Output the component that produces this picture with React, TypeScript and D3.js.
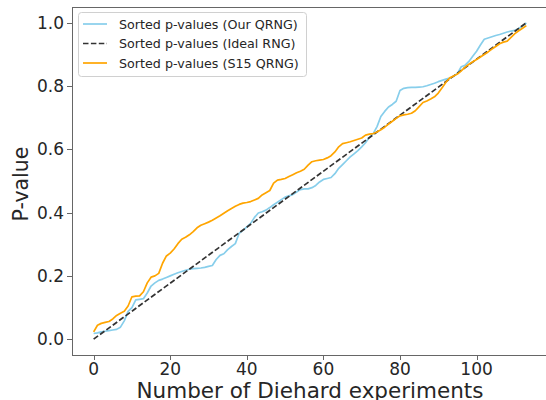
import * as d3 from 'd3';
import { useEffect, useRef } from 'react';

const ourQrng = [
  0.018, 0.020, 0.023, 0.025, 0.027, 0.029, 0.031, 0.038, 0.058, 0.088,
  0.100, 0.124, 0.126, 0.128, 0.146, 0.168, 0.178, 0.186, 0.190, 0.195,
  0.200, 0.205, 0.210, 0.214, 0.218, 0.221, 0.223, 0.224, 0.225, 0.227,
  0.230, 0.233, 0.252, 0.265, 0.270, 0.283, 0.293, 0.302, 0.335, 0.344,
  0.355, 0.366, 0.385, 0.399, 0.403, 0.408, 0.416, 0.425, 0.433, 0.441,
  0.449, 0.453, 0.457, 0.465, 0.473, 0.475, 0.475, 0.479, 0.486, 0.497,
  0.505, 0.508, 0.511, 0.523, 0.540, 0.552, 0.564, 0.576, 0.586, 0.596,
  0.608, 0.621, 0.638, 0.650, 0.672, 0.704, 0.720, 0.734, 0.742, 0.752,
  0.786, 0.793, 0.795, 0.796, 0.796, 0.797, 0.798, 0.801, 0.805, 0.809,
  0.814, 0.818, 0.822, 0.825, 0.831, 0.840, 0.861, 0.866, 0.878, 0.894,
  0.910, 0.930, 0.948, 0.952, 0.956, 0.960, 0.963, 0.967, 0.971, 0.974,
  0.976, 0.982, 0.990, 1.000,
];

const s15Qrng = [
  0.023, 0.044, 0.050, 0.053, 0.056, 0.064, 0.075, 0.082, 0.088, 0.105,
  0.134, 0.136, 0.137, 0.150, 0.178, 0.196, 0.200, 0.208, 0.240, 0.263,
  0.272, 0.285, 0.302, 0.316, 0.322, 0.330, 0.340, 0.352, 0.360, 0.365,
  0.370, 0.376, 0.383, 0.390, 0.398, 0.406, 0.413, 0.420, 0.426, 0.430,
  0.432, 0.435, 0.440, 0.445, 0.456, 0.463, 0.470, 0.493, 0.503, 0.505,
  0.508, 0.514, 0.520, 0.526, 0.531, 0.537, 0.550, 0.561, 0.564, 0.566,
  0.568, 0.573, 0.580, 0.592, 0.608, 0.618, 0.621, 0.624, 0.628, 0.632,
  0.636, 0.645, 0.648, 0.650, 0.655, 0.662, 0.670, 0.680, 0.689, 0.698,
  0.706, 0.709, 0.711, 0.714, 0.722, 0.735, 0.748, 0.753, 0.759, 0.766,
  0.778, 0.795, 0.812, 0.826, 0.832, 0.838, 0.848, 0.860, 0.869, 0.877,
  0.884, 0.892, 0.900, 0.908, 0.917, 0.925, 0.934, 0.939, 0.942, 0.954,
  0.966, 0.975, 0.983, 0.991,
];

// Ideal RNG: straight diagonal, end points only
const idealX = [0, 113];
const idealP = [0.0, 1.0];

const xTicks = [0, 20, 40, 60, 80, 100];
const yTicks = [0.0, 0.2, 0.4, 0.6, 0.8, 1.0];

const legendLabels = [
  'Sorted p-values (Our QRNG)',
  'Sorted p-values (Ideal RNG)',
  'Sorted p-values (S15 QRNG)',
];

const BLUE = '#87ceeb';
const ORANGE = '#ffa500';
const DASH = '#333333';
const FONT = 'DejaVu Sans, sans-serif';

export default function App() {
  const svgRef = useRef<SVGSVGElement>(null);

  useEffect(() => {
    document.body.style.margin = '0';
    const svg = d3.select(svgRef.current);
    svg.selectAll('*').remove();

    const left = 72, right = 548, top = 7, bottom = 355;

    const x = d3.scaleLinear().domain([-5.65, 118.65]).range([left, right]);
    const y = d3.scaleLinear().domain([-0.05, 1.05]).range([bottom, top]);

    const line = d3.line<[number, number]>()
      .x(d => x(d[0]))
      .y(d => y(d[1]));

    // Plot frame
    svg.append('rect')
      .attr('x', left + 0.5).attr('y', top + 0.5)
      .attr('width', right - left).attr('height', bottom - top)
      .attr('fill', 'none').attr('stroke', '#666').attr('stroke-width', 1);

    const plot = svg.append('g');

    plot.append('path')
      .datum(ourQrng.map((v, i) => [i, v] as [number, number]))
      .attr('fill', 'none').attr('stroke', BLUE).attr('stroke-width', 1.7)
      .attr('stroke-linejoin', 'round')
      .attr('d', line);

    plot.append('path')
      .datum(idealX.map((v, i) => [v, idealP[i]] as [number, number]))
      .attr('fill', 'none').attr('stroke', DASH).attr('stroke-width', 1.7)
      .attr('stroke-dasharray', '5.5 2.4')
      .attr('d', line);

    plot.append('path')
      .datum(s15Qrng.map((v, i) => [i, v] as [number, number]))
      .attr('fill', 'none').attr('stroke', ORANGE).attr('stroke-width', 1.7)
      .attr('stroke-linejoin', 'round')
      .attr('d', line);

    // X axis ticks
    const xt = svg.append('g');
    xTicks.forEach(t => {
      const px = Math.round(x(t)) + 0.5;
      xt.append('line')
        .attr('x1', px).attr('x2', px)
        .attr('y1', bottom).attr('y2', bottom + 5)
        .attr('stroke', '#666');
      xt.append('text')
        .attr('x', x(t)).attr('y', 375)
        .attr('text-anchor', 'middle')
        .attr('font-family', FONT).attr('font-size', 17)
        .attr('fill', '#262626')
        .text(String(t));
    });

    // Y axis ticks
    const yt = svg.append('g');
    yTicks.forEach(t => {
      const py = Math.round(y(t)) + 0.5;
      yt.append('line')
        .attr('x1', left - 5).attr('x2', left)
        .attr('y1', py).attr('y2', py)
        .attr('stroke', '#666');
      yt.append('text')
        .attr('x', 64).attr('y', y(t))
        .attr('dy', '0.36em')
        .attr('text-anchor', 'end')
        .attr('font-family', FONT).attr('font-size', 17)
        .attr('fill', '#262626')
        .text(t.toFixed(1));
    });

    // Axis labels
    svg.append('text')
      .attr('x', (left + right) / 2).attr('y', 398)
      .attr('text-anchor', 'middle')
      .attr('font-family', FONT).attr('font-size', 21.5)
      .attr('fill', '#262626')
      .text('Number of Diehard experiments');

    svg.append('text')
      .attr('transform', 'translate(28,184) rotate(-90)')
      .attr('text-anchor', 'middle')
      .attr('font-family', FONT).attr('font-size', 20.5)
      .attr('fill', '#262626')
      .text('P-value');

    // Legend
    const lg = svg.append('g');
    lg.append('rect')
      .attr('x', 78.5).attr('y', 12.5)
      .attr('width', 228).attr('height', 64)
      .attr('rx', 3)
      .attr('fill', 'white').attr('fill-opacity', 0.8)
      .attr('stroke', '#d0d0d0');

    const styles = [
      { color: BLUE, dash: null },
      { color: DASH, dash: '5.5 2.4' },
      { color: ORANGE, dash: null },
    ];
    legendLabels.forEach((label, i) => {
      const ly = 24 + i * 19.5;
      const s = styles[i];
      const l = lg.append('line')
        .attr('x1', 83).attr('x2', 107)
        .attr('y1', ly).attr('y2', ly)
        .attr('stroke', s.color).attr('stroke-width', 1.7);
      if (s.dash) l.attr('stroke-dasharray', s.dash);
      lg.append('text')
        .attr('x', 119).attr('y', ly)
        .attr('dy', '0.36em')
        .attr('font-family', FONT).attr('font-size', 12.7)
        .attr('fill', '#262626')
        .text(label);
    });
  }, []);

  return (
    <svg
      ref={svgRef}
      width={546}
      height={400}
      style={{ display: 'block', background: 'white' }}
    />
  );
}
